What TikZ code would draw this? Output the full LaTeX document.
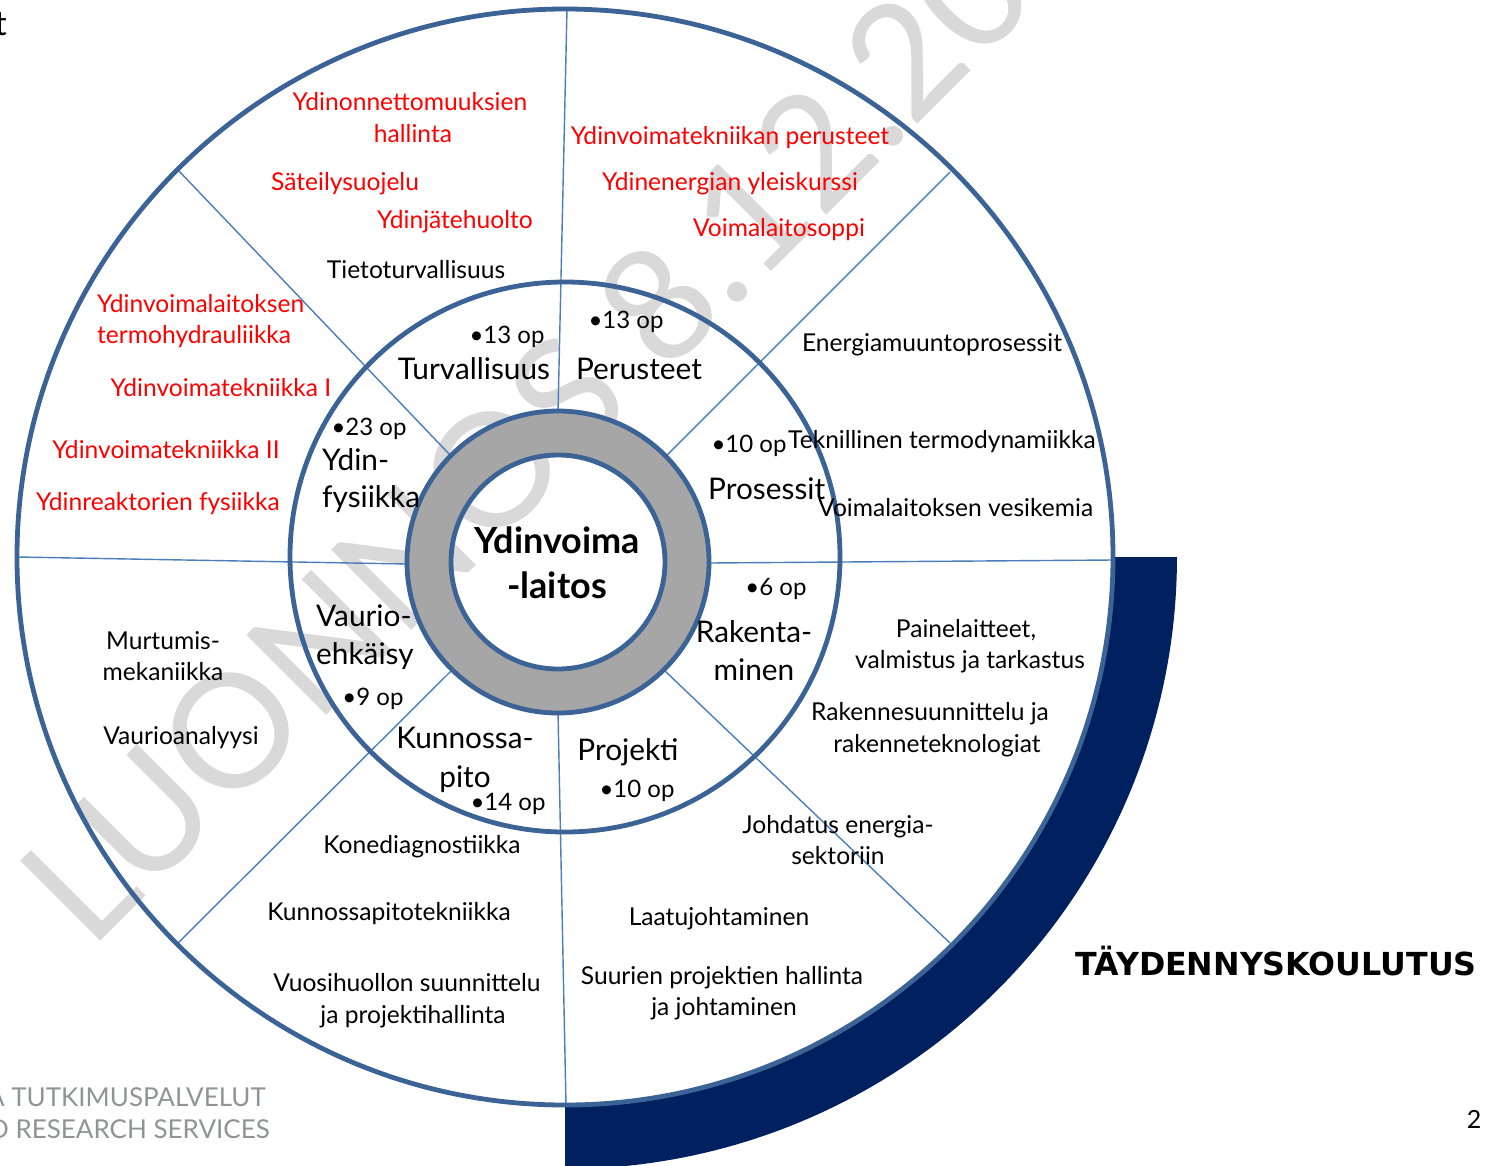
\documentclass[tikz,border=0pt]{standalone}
\usepackage{fontspec}
\setmainfont{Lato}
\newfontfamily\widebold{DejaVu Sans}
\definecolor{ringblue}{HTML}{3C6396}
\definecolor{lineblue}{HTML}{4A7EBB}
\definecolor{navyband}{HTML}{002060}
\definecolor{ringgray}{HTML}{A6A6A6}
\definecolor{wmgray}{HTML}{D9D9D9}
\definecolor{footgray}{HTML}{8F9595}
\definecolor{redtext}{HTML}{FF0000}
\tikzset{
  sect/.style={font=\fontsize{24.6}{28}\selectfont, inner sep=0pt, anchor=base},
  redt/.style={sect, text=redtext},
  midt/.style={font=\fontsize{29.8}{33}\selectfont, inner sep=0pt, anchor=base},
  opt/.style={font=\fontsize{24}{28}\selectfont, inner sep=0pt, anchor=base},
  hub/.style={font=\bfseries\fontsize{36}{40}\selectfont, inner sep=0pt, anchor=base},
  ringline/.style={draw=ringblue, line width=4.8pt},
  divider/.style={draw=lineblue, line width=1.4pt},
}
\begin{document}
\begin{tikzpicture}[x=1pt,y=-1pt]
\useasboundingbox (0,0) rectangle (1491,1165);
% watermark
\node[font=\fontsize{158}{158}\selectfont, text=wmgray, rotate=45, anchor=base west, inner sep=0pt] (wm) at (90,952) {LUONNOS 8.12.2017};
% navy band
\fill[navyband] plot[domain=0:90, samples=90] ({565+612*cos(\x)},{557+612*sin(\x)})
   -- plot[domain=90:0, samples=90] ({565+548*cos(\x)},{557+548*sin(\x)}) -- cycle;
% gray ring
\fill[ringgray, even odd rule] (558,562) circle[radius=151pt] (558,562) circle[radius=107pt];
% dividers
\coordinate (nT) at (567,9);   \coordinate (iT) at (558,412);
\coordinate (nB) at (566,1105);\coordinate (iB) at (558,712);
\coordinate (nL) at (18,557);  \coordinate (iL) at (407,564);
\coordinate (nR) at (1113,560);\coordinate (iR) at (709,563);
\coordinate (nNW) at (178,170);\coordinate (iNW) at (451,456);
\coordinate (nNE) at (950,172);\coordinate (iNE) at (665,457);
\coordinate (nSW) at (178,943);\coordinate (iSW) at (451,671);
\coordinate (nSE) at (950,943);\coordinate (iSE) at (665,671);
\foreach \p in {T,B,L,R,NW,NE,SW,SE} \draw[divider] (n\p) -- (i\p);
% circles
\draw[ringline] (565,557) circle[radius=548pt];
\draw[ringline] (565,557) circle[radius=275pt];
\draw[ringline] (558,562) circle[radius=151pt];
\draw[ringline] (558,562) circle[radius=107pt];
% hub
\node[hub] (hub1) at (557,553) {Ydinvoima};
\node[hub] (hub2) at (557,598) {-laitos};
% inner ring labels
\node[opt] (op1) at (507,343) {•13 op};
\node[midt] (m1) at (474,379) {Turvallisuus};
\node[opt] (op2) at (626,328) {•13 op};
\node[midt] (m2) at (639,379) {Perusteet};
\node[opt] (op3) at (369,435) {•23 op};
\node[midt, anchor=base west] (m3a) at (322,470) {Ydin-};
\node[midt, anchor=base west] (m3b) at (322,507) {fysiikka};
\node[opt] (op4) at (749,452) {•10 op};
\node[midt, anchor=base west] (m4) at (708,499) {Prosessit};
\node[opt] (op5) at (776,595) {•6 op};
\node[midt] (m5a) at (754,642) {Rakenta-};
\node[midt] (m5b) at (754,680) {minen};
\node[midt] (m6) at (628,760) {Projekti};
\node[opt] (op6) at (637,797) {•10 op};
\node[midt] (m7a) at (465,748) {Kunnossa-};
\node[midt] (m7b) at (465,787) {pito};
\node[opt] (op7) at (508,810) {•14 op};
\node[midt, anchor=base west] (m8a) at (316,626) {Vaurio-};
\node[midt, anchor=base west] (m8b) at (316,664) {ehkäisy};
\node[opt] (op8) at (373,705) {•9 op};
% outer sector texts
\node[redt] (s1) at (410,110) {Ydinonnettomuuksien};
\node[redt] (s2) at (413,142) {hallinta};
\node[redt] (s3) at (345,190) {Säteilysuojelu};
\node[redt] (s4) at (455,228) {Ydinjätehuolto};
\node[sect] (s5) at (416,278) {Tietoturvallisuus};
\node[redt] (s6) at (730,144) {Ydinvoimatekniikan perusteet};
\node[redt] (s7) at (730,190) {Ydinenergian yleiskurssi};
\node[redt] (s8) at (779,236) {Voimalaitosoppi};
\node[redt, anchor=base west] (s9) at (97,312) {Ydinvoimalaitoksen};
\node[redt, anchor=base west] (s10) at (97,343) {termohydrauliikka};
\node[redt] (s11) at (221,396) {Ydinvoimatekniikka I};
\node[redt] (s12) at (166,458) {Ydinvoimatekniikka II};
\node[redt] (s13) at (158,510) {Ydinreaktorien fysiikka};
\node[sect] (s14) at (932,351) {Energiamuuntoprosessit};
\node[sect, anchor=base west] (s15) at (788,448) {Teknillinen termodynamiikka};
\node[sect, anchor=base west] (s16) at (818,516) {Voimalaitoksen vesikemia};
\node[sect] (s17) at (966,637) {Painelaitteet,};
\node[sect] (s18) at (970,668) {valmistus ja tarkastus};
\node[sect] (s19) at (930,720) {Rakennesuunnittelu ja};
\node[sect] (s20) at (937,752) {rakenneteknologiat};
\node[sect] (s21) at (838,833) {Johdatus energia-};
\node[sect] (s22) at (838,864) {sektoriin};
\node[sect] (s23) at (719,925) {Laatujohtaminen};
\node[sect] (s24) at (722,984) {Suurien projektien hallinta};
\node[sect] (s25) at (724,1015) {ja johtaminen};
\node[sect] (s26) at (422,853) {Konediagnostiikka};
\node[sect] (s27) at (389,920) {Kunnossapitotekniikka};
\node[sect] (s28) at (407,991) {Vuosihuollon suunnittelu};
\node[sect] (s29) at (413,1023) {ja projektihallinta};
\node[sect] (s30) at (163,649) {Murtumis-};
\node[sect] (s31) at (163,680) {mekaniikka};
\node[sect] (s32) at (181,744) {Vaurioanalyysi};
% right side
\node[font=\widebold\bfseries\fontsize{31.7}{34}\selectfont, inner sep=0pt, anchor=base] (tay) at (1276,975) {TÄYDENNYSKOULUTUS};
\node[font=\fontsize{25}{28}\selectfont, inner sep=0pt, anchor=base] (pg) at (1474,1128) {2};
% footer and fragments
\node[font=\fontsize{26}{28}\selectfont, text=footgray, inner sep=0pt, anchor=base east] (f1) at (266,1106) {A TUTKIMUSPALVELUT};
\node[font=\fontsize{26}{28}\selectfont, text=footgray, inner sep=0pt, anchor=base east] (f2) at (270,1138) {D RESEARCH SERVICES};
\node[font=\fontsize{34}{36}\selectfont, inner sep=0pt, anchor=base east] (frag) at (7,35) {t};
\end{tikzpicture}
\end{document}
